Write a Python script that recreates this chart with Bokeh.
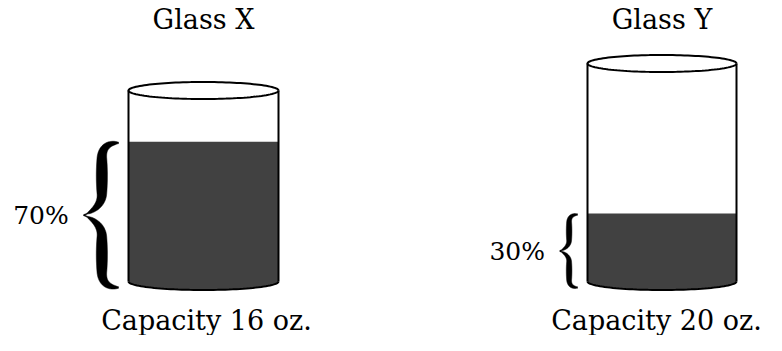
import numpy as np
from bokeh.plotting import figure
from bokeh.models import Range1d
from bokeh.core.properties import value
from bokeh.embed import file_html
from bokeh.resources import INLINE

# ---- data ----
glass_names = ["Glass X", "Glass Y"]
capacities = [16, 20]          # oz
fill_pct = [70, 30]            # percent full

# ---- layout (screen pixels) ----
glass_left = [128, 587]
glass_right = [278, 736]
glass_top = [100, 73]
glass_bottom = [291, 291]
rim_ry = 8.5
title_y = 29
caption_y = 330
CANVAS_W = 766

FONT = "DejaVu Serif"
LIQUID = "#414141"

p = figure(width=CANVAS_W, height=335, x_range=Range1d(0, CANVAS_W), y_range=Range1d(345, 10),
           output_backend="svg", toolbar_location=None, min_border=0,
           x_axis_location=None, y_axis_location=None)
p.grid.visible = False
p.outline_line_color = None
p.background_fill_color = "white"


def brace_polys(xe, y0, y1):
    h = y1 - y0
    ym = (y0 + y1) / 2.0
    xs = xe - 0.115 * h
    xt = xe - 0.24 * h
    W = 0.077 * h
    hh = ym - y0
    a = 0.22 * hh
    b = 0.30 * hh
    t = np.linspace(0, 1, 40)
    s1x = (1 - t) ** 2 * xe + 2 * (1 - t) * t * xs + t ** 2 * xs
    s1y = (1 - t) ** 2 * y0 + 2 * (1 - t) * t * y0 + t ** 2 * (y0 + a)
    s2x = np.full_like(t, xs)
    s2y = (y0 + a) + t * ((ym - b) - (y0 + a))
    cy = ym - 0.35 * b
    s3x = (1 - t) ** 2 * xs + 2 * (1 - t) * t * xs + t ** 2 * xt
    s3y = (1 - t) ** 2 * (ym - b) + 2 * (1 - t) * t * cy + t ** 2 * ym
    cx = np.concatenate([s1x, s2x[1:], s3x[1:]])
    cyy = np.concatenate([s1y, s2y[1:], s3y[1:]])
    d = np.sqrt(np.diff(cx) ** 2 + np.diff(cyy) ** 2)
    s = np.concatenate([[0], np.cumsum(d)])
    s = s / s[-1]
    w = 1.0 + (W - 1.0) * np.sin(np.pi * np.clip(s * 1.05, 0, 1)) ** 0.7
    w[0] = max(w[0], 1.6)
    tx = np.gradient(cx)
    ty = np.gradient(cyy)
    nrm = np.sqrt(tx ** 2 + ty ** 2) + 1e-9
    nx, ny = -ty / nrm, tx / nrm
    lx, ly = cx + nx * w / 2, cyy + ny * w / 2
    rx, ry = cx - nx * w / 2, cyy - ny * w / 2
    px = np.concatenate([lx, rx[::-1]])
    py = np.concatenate([ly, ry[::-1]])
    return [list(px), list(px)], [list(py), list(2 * ym - py)]


for i, name in enumerate(glass_names):
    xl, xr = glass_left[i], glass_right[i]
    yt, yb = glass_top[i], glass_bottom[i]
    cxm = (xl + xr) / 2.0
    rx = (xr - xl) / 2.0
    inner_top = yt - rim_ry
    yf = yb - fill_pct[i] / 100.0 * (yb - inner_top)

    # liquid
    th = np.linspace(0, np.pi, 60)
    lx = [xl, xr] + list(cxm + rx * np.cos(th))
    ly = [yf, yf] + list(yb + rim_ry * np.sin(th))
    p.patch(lx, ly, fill_color=LIQUID, line_color=None)

    # glass outline
    p.segment(x0=[xl, xr], y0=[yt, yt], x1=[xl, xr], y1=[yb, yb],
              line_color="black", line_width=2)
    th2 = np.linspace(0, 2 * np.pi, 120)
    p.line(cxm + rx * np.cos(th2), yt + rim_ry * np.sin(th2),
           line_color="black", line_width=2)
    p.line(cxm + rx * np.cos(th), yb + rim_ry * np.sin(th),
           line_color="black", line_width=2)

    # brace
    bx, by = brace_polys(xl - 10, yf + 1, yb + 6)
    p.patches(bx, by, fill_color="black", line_color="black", line_width=0.5)

    # labels
    h = (yb + 6) - (yf + 1)
    tip = xl - 10 - 0.24 * h
    ymid = (yf + 1 + yb + 6) / 2.0
    p.text(x=[tip - 15], y=[ymid], text=[f"{fill_pct[i]}%"],
           text_align="right", text_baseline="middle",
           text_font=value(FONT), text_font_size="25px", text_color="black")
    p.text(x=[cxm], y=[title_y], text=[name], text_align="center",
           text_baseline="alphabetic", text_font=value(FONT),
           text_font_size="27px", text_color="black")
    cap_x = min(cxm + 3, CANVAS_W - 110)
    p.text(x=[cap_x], y=[caption_y], text=[f"Capacity {capacities[i]} oz."],
           text_align="center", text_baseline="alphabetic",
           text_font=value(FONT), text_font_size="27px", text_color="black")

open("out.html", "w").write(file_html(p, INLINE))
